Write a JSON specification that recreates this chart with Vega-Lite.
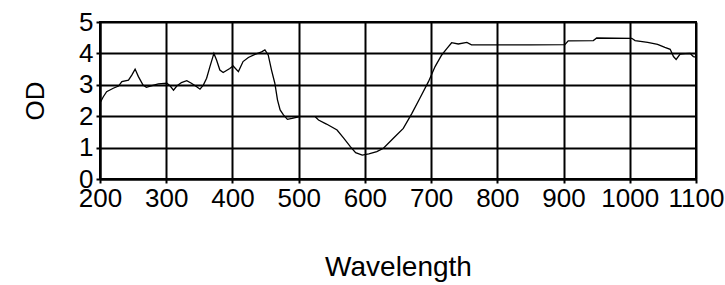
{
  "$schema": "https://vega.github.io/schema/vega-lite/v6.json",
  "autosize": "none",
  "width": 596,
  "height": 157,
  "padding": {"left": 100, "top": 22, "right": 29, "bottom": 106},
  "background": "white",
  "config": {
    "view": {"stroke": "black", "strokeWidth": 2},
    "font": "Liberation Sans"
  },
  "data": {"values": [
    {"wl": 201, "od": 2.46, "seg": "a"},
    {"wl": 205, "od": 2.62, "seg": "a"},
    {"wl": 210, "od": 2.78, "seg": "a"},
    {"wl": 220, "od": 2.89, "seg": "a"},
    {"wl": 228, "od": 2.96, "seg": "a"},
    {"wl": 233, "od": 3.1, "seg": "a"},
    {"wl": 243, "od": 3.15, "seg": "a"},
    {"wl": 248, "od": 3.31, "seg": "a"},
    {"wl": 253, "od": 3.5, "seg": "a"},
    {"wl": 258, "od": 3.26, "seg": "a"},
    {"wl": 265, "od": 2.99, "seg": "a"},
    {"wl": 270, "od": 2.92, "seg": "a"},
    {"wl": 276, "od": 2.96, "seg": "a"},
    {"wl": 288, "od": 3.03, "seg": "a"},
    {"wl": 301, "od": 3.05, "seg": "a"},
    {"wl": 306, "od": 2.96, "seg": "a"},
    {"wl": 311, "od": 2.83, "seg": "a"},
    {"wl": 316, "od": 2.96, "seg": "a"},
    {"wl": 323, "od": 3.07, "seg": "a"},
    {"wl": 331, "od": 3.13, "seg": "a"},
    {"wl": 338, "od": 3.05, "seg": "a"},
    {"wl": 346, "od": 2.94, "seg": "a"},
    {"wl": 351, "od": 2.86, "seg": "a"},
    {"wl": 356, "od": 2.99, "seg": "a"},
    {"wl": 361, "od": 3.21, "seg": "a"},
    {"wl": 366, "od": 3.58, "seg": "a"},
    {"wl": 372, "od": 4.0, "seg": "a"},
    {"wl": 376, "od": 3.79, "seg": "a"},
    {"wl": 381, "od": 3.47, "seg": "a"},
    {"wl": 386, "od": 3.39, "seg": "a"},
    {"wl": 396, "od": 3.52, "seg": "a"},
    {"wl": 401, "od": 3.6, "seg": "a"},
    {"wl": 409, "od": 3.42, "seg": "a"},
    {"wl": 416, "od": 3.74, "seg": "a"},
    {"wl": 424, "od": 3.87, "seg": "a"},
    {"wl": 434, "od": 3.97, "seg": "a"},
    {"wl": 444, "od": 4.05, "seg": "a"},
    {"wl": 449, "od": 4.11, "seg": "a"},
    {"wl": 454, "od": 3.95, "seg": "a"},
    {"wl": 459, "od": 3.47, "seg": "a"},
    {"wl": 464, "od": 3.05, "seg": "a"},
    {"wl": 468, "od": 2.52, "seg": "a"},
    {"wl": 472, "od": 2.2, "seg": "a"},
    {"wl": 477, "od": 2.04, "seg": "a"},
    {"wl": 483, "od": 1.9, "seg": "a"},
    {"wl": 490, "od": 1.93, "seg": "a"},
    {"wl": 500, "od": 1.98, "seg": "a"},
    {"wl": 525, "od": 1.98, "seg": "b"},
    {"wl": 530, "od": 1.88, "seg": "b"},
    {"wl": 542, "od": 1.75, "seg": "b"},
    {"wl": 558, "od": 1.56, "seg": "b"},
    {"wl": 568, "od": 1.3, "seg": "b"},
    {"wl": 578, "od": 1.03, "seg": "b"},
    {"wl": 586, "od": 0.84, "seg": "b"},
    {"wl": 596, "od": 0.76, "seg": "b"},
    {"wl": 606, "od": 0.8, "seg": "b"},
    {"wl": 618, "od": 0.87, "seg": "b"},
    {"wl": 628, "od": 0.98, "seg": "b"},
    {"wl": 643, "od": 1.3, "seg": "b"},
    {"wl": 658, "od": 1.61, "seg": "b"},
    {"wl": 671, "od": 2.09, "seg": "b"},
    {"wl": 683, "od": 2.57, "seg": "b"},
    {"wl": 696, "od": 3.1, "seg": "b"},
    {"wl": 706, "od": 3.58, "seg": "b"},
    {"wl": 716, "od": 3.95, "seg": "b"},
    {"wl": 724, "od": 4.16, "seg": "b"},
    {"wl": 731, "od": 4.34, "seg": "b"},
    {"wl": 741, "od": 4.3, "seg": "b"},
    {"wl": 754, "od": 4.35, "seg": "b"},
    {"wl": 761, "od": 4.27, "seg": "b"},
    {"wl": 800, "od": 4.27, "seg": "b"},
    {"wl": 850, "od": 4.27, "seg": "b"},
    {"wl": 902, "od": 4.28, "seg": "b"},
    {"wl": 907, "od": 4.4, "seg": "b"},
    {"wl": 945, "od": 4.41, "seg": "b"},
    {"wl": 950, "od": 4.49, "seg": "b"},
    {"wl": 1003, "od": 4.48, "seg": "b"},
    {"wl": 1008, "od": 4.41, "seg": "b"},
    {"wl": 1027, "od": 4.35, "seg": "b"},
    {"wl": 1042, "od": 4.29, "seg": "b"},
    {"wl": 1053, "od": 4.19, "seg": "b"},
    {"wl": 1061, "od": 4.13, "seg": "b"},
    {"wl": 1066, "od": 3.9, "seg": "b"},
    {"wl": 1070, "od": 3.81, "seg": "b"},
    {"wl": 1076, "od": 3.98, "seg": "b"},
    {"wl": 1084, "od": 3.99, "seg": "b"},
    {"wl": 1091, "od": 4.0, "seg": "b"},
    {"wl": 1096, "od": 3.9, "seg": "b"},
    {"wl": 1100, "od": 3.88, "seg": "b"}
  ]},
  "mark": {"type": "line", "color": "black", "strokeWidth": 1.3},
  "encoding": {
    "x": {
      "field": "wl", "type": "quantitative",
      "scale": {"domain": [200, 1100], "nice": false, "zero": false},
      "axis": {
        "title": "Wavelength",
        "values": [200, 300, 400, 500, 600, 700, 800, 900, 1000, 1100],
        "format": "d",
        "labelOverlap": false,
        "labelFlush": false,
        "labelFont": "Liberation Sans", "labelFontSize": 26, "labelColor": "black",
        "labelPadding": 2,
        "titleFont": "Liberation Sans", "titleFontSize": 28, "titleFontWeight": "normal", "titleColor": "black",
        "titlePadding": 42,
        "domainColor": "black", "domainWidth": 2,
        "tickColor": "black", "tickSize": 4, "tickWidth": 2,
        "grid": true, "gridColor": "black", "gridWidth": 2, "gridOpacity": 1
      }
    },
    "y": {
      "field": "od", "type": "quantitative",
      "scale": {"domain": [0, 5], "nice": false},
      "axis": {
        "title": "OD",
        "values": [0, 1, 2, 3, 4, 5],
        "labelFont": "Liberation Sans", "labelFontSize": 26, "labelColor": "black",
        "labelPadding": 3,
        "labelFlush": false,
        "titleFont": "Liberation Sans", "titleFontSize": 26, "titleFontWeight": "normal", "titleColor": "black",
        "titlePadding": 30,
        "domainColor": "black", "domainWidth": 2,
        "tickColor": "black", "tickSize": 4, "tickWidth": 2,
        "grid": true, "gridColor": "black", "gridWidth": 2, "gridOpacity": 1
      }
    },
    "detail": {"field": "seg", "type": "nominal"}
  }
}
